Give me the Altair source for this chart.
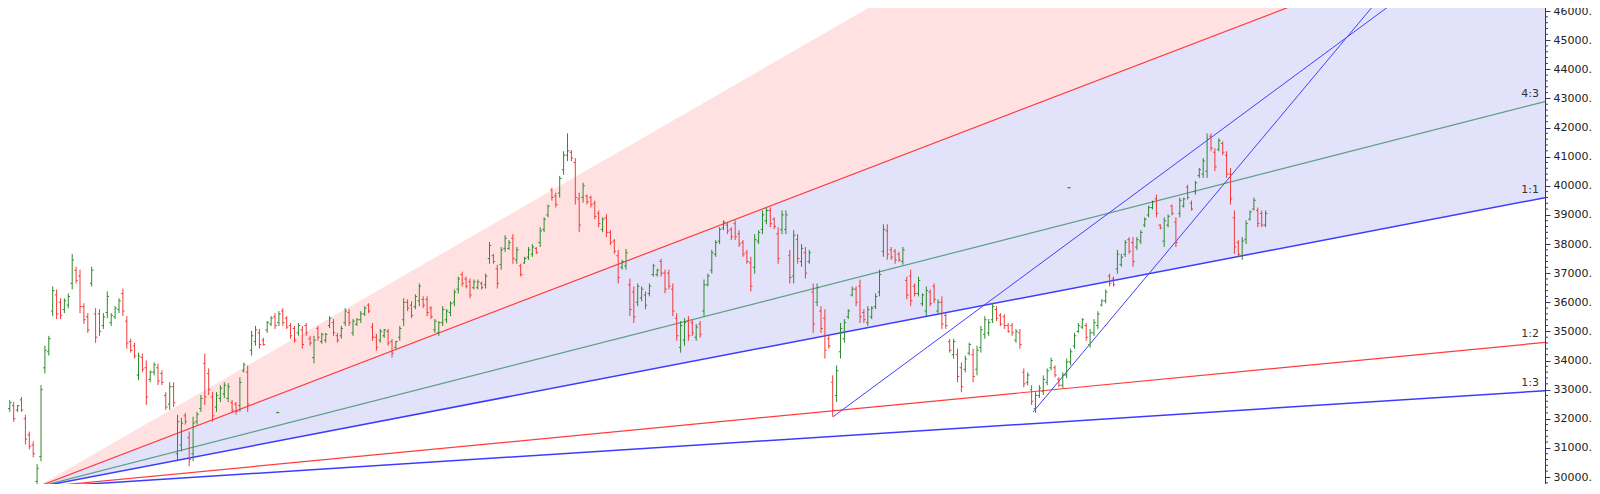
import altair as alt
import pandas as pd

# ---------------- data ----------------
HIGH = [32304,32474,32643,32575,32474,32745,32135,31559,31220,30440,
        33152,34508,34847,36542,36440,36135,36135,36305,37661,37220,
        37118,35966,35627,37220,35796,35762,35627,36373,35627,35864,
        36135,36474,35525,34745,34610,34271,34237,34000,33661,33932,
        33898,33661,32915,33254,33254,32135,32033,32203,31559,32067,
        32237,32813,34237,33728,32915,32915,33152,33254,33220,32643,
        32575,33423,33932,33830,35017,35186,35084,34780,35356,35525,
        35627,35695,35796,35525,35288,35186,35288,35186,35288,34847,
        34847,35186,34949,34949,35525,35423,34949,35186,35796,35762,
        35423,35457,35695,35864,35966,35288,34915,35084,35084,35084,
        34745,34678,35186,36135,36101,36034,36271,36644,36203,36203,
        35864,35423,35356,35864,35762,36034,36440,36881,37050,36881,
        36813,36779,36779,36712,36983,38068,37661,37288,37898,38305,
        38136,38339,37898,37322,37559,37898,37999,37898,38576,38915,
        39356,39932,39763,40339,41186,41797,41220,40949,39763,40102,
        39695,39661,39491,39152,38915,39017,38474,38169,37797,37458,
        37830,36813,36542,36644,36542,36373,36644,37322,37152,37491,
        37118,37118,36644,35627,35356,35457,35525,35423,35254,35356,
        36779,36983,37797,38136,38576,38813,38746,38576,38813,38474,
        38136,37797,37559,38339,38474,39152,39254,39254,38915,38576,
        39152,39152,37797,38474,38339,37999,37898,37797,36644,36644,
        35864,35762,34847,33491,33830,35288,35423,35762,36542,36542,
        36779,35762,35864,35864,36305,37118,38678,38678,37898,37830,
        37729,37898,36881,37118,36644,36881,36305,36542,36440,36644,
        36101,36203,35627,34745,34745,34406,33932,34169,34610,34406,
        34508,35186,35525,35423,35966,35864,35627,35593,35288,35288,
        35084,35084,33728,33593,33152,32915,33152,33491,33728,34101,
        33830,33423,33593,34067,34406,34949,35288,35457,35288,35084,
        35423,35695,36101,36440,36983,36881,37797,37661,38136,38237,
        38237,38237,38474,38915,39322,39491,39695,38678,38915,39017,
        39356,38915,39593,39593,40034,39491,40169,40610,40949,41797,
        41797,41288,41627,41525,41186,40610,39152,38136,38237,38813,
        39152,39593,39254,39152,39152]

LOW = [31728,32033,32237,31898,32237,32237,31118,30948,30677,29640,
       30542,33559,34169,35525,35423,35423,35627,35796,36440,36644,
       35627,35254,34949,36542,34610,34847,35084,35457,35186,35423,
       35627,35525,34406,34271,34067,33322,33593,32474,33254,33491,
       33152,33152,32304,32304,32406,30542,30881,31796,30372,30542,
       31796,32237,32474,32813,31898,32237,32575,32711,32575,32203,
       32135,32237,33593,32237,34169,34508,34406,34508,34949,35186,
       35084,35186,35186,35084,34745,34610,34847,34406,34847,34508,
       33898,34678,34576,34610,35118,34847,34610,34745,35186,35186,
       34847,35186,35288,35525,35627,34678,34339,34610,34780,34508,
       34101,34406,34678,35186,35695,35457,35762,35864,35796,35525,
       35423,34949,34847,35186,35288,35525,35864,36305,36542,36474,
       36135,36440,36440,36440,36474,37322,37322,36474,37118,37729,
       37797,37322,37322,36881,37322,37458,37559,37661,37898,38407,
       38915,39491,39254,39593,40373,40847,40847,39356,38407,39423,
       39356,39254,38847,38576,38407,38237,37966,37661,36644,37118,
       37118,35525,35288,35864,36034,35762,36203,36881,36881,36881,
       36305,36440,35525,34678,34271,34508,34678,34847,34678,34780,
       35525,36542,36983,37559,37999,38474,38339,38136,38136,37898,
       37559,37322,36373,36983,37999,38339,38678,38576,38508,37322,
       38339,38339,36644,36644,37322,37220,36813,37322,34949,35864,
       34949,34067,34406,32070,32575,34067,34610,35423,36203,35864,
       35288,35288,35186,35423,35762,36203,37559,37458,37458,37322,
       37390,37288,36101,35864,36203,36203,35864,35525,35864,35966,
       35627,35084,35084,34271,34067,33254,32915,33593,34169,33254,
       33491,34271,34745,34847,35288,35356,35186,35084,34949,34847,
       34610,34406,33084,33152,32474,32203,32711,32813,33152,33661,
       33423,33084,33050,33390,33830,34406,34949,35084,34678,34440,
       34847,35084,35864,35966,36542,36542,36983,37220,37559,37661,
       37220,37797,37999,38576,38915,39186,38915,38508,37898,38576,
       38983,37898,38915,39254,39525,39152,39695,40271,40271,40271,
       41186,40508,41186,41050,40271,39356,37661,37559,37458,37999,
       38813,39152,38576,38576,38576]

OPEN = [32200,32150,32350,32450,32300,32650,32000,31450,31100,29850,
        30700,33750,34300,35700,36250,36000,35750,35900,36650,37100,
        36900,35850,35500,36650,35600,35600,35200,35650,35300,35500,
        35750,36300,35350,34650,34500,33500,34100,33750,33350,33600,
        33750,33550,32800,32500,33100,30800,31100,32100,31350,30800,
        31900,32350,33900,33550,32750,32400,32700,32850,32700,32550,
        32500,32450,33650,33600,34350,34650,34950,34700,35050,35250,
        35500,35300,35700,35450,35200,35100,34950,35050,35200,34750,
        34100,35100,34650,34700,35200,35300,34850,34850,35300,35650,
        34950,35250,35400,35600,35900,35150,34800,34700,34850,35000,
        34650,34450,34800,35400,36000,35900,35850,36050,36100,36100,
        35800,35050,34950,35300,35400,35650,36000,36450,36950,36800,
        36700,36500,36500,36650,36600,37500,37600,37150,37300,37850,
        37850,38200,37450,37250,37350,37550,37650,37850,38050,38500,
        39000,39850,39650,39750,40550,41050,41150,40800,39550,39600,
        39650,39600,39400,39050,38500,38900,38400,38100,37600,37200,
        37250,36600,36350,36000,36150,36250,36300,36950,36950,37400,
        37000,37000,36450,35450,34450,34700,35350,35300,34800,35250,
        35700,36600,37100,37650,38100,38550,38650,38500,38700,38350,
        38050,37700,37350,37200,38100,38500,38800,39150,38850,38350,
        38500,38500,37600,36900,38150,37400,37700,37400,36350,36000,
        35700,35450,34750,33250,32800,34300,34750,35500,36250,36450,
        36550,35650,35300,35500,35850,36350,37750,38450,37800,37750,
        37650,37400,36750,36900,36550,36300,35950,35700,36350,36550,
        35700,36000,35550,34650,34200,34200,33750,33700,34250,34200,
        33700,34450,34900,34950,35400,35750,35550,35500,35200,35200,
        34700,34950,33600,33250,33000,32350,32800,32950,33250,33750,
        33750,33350,33150,33500,33950,34500,35000,35150,35200,34550,
        34950,35200,35900,36050,36900,36800,37150,37300,37650,38150,
        38050,37900,38100,38650,39000,39250,39550,38650,38100,38650,
        39300,38750,39050,39300,39950,39400,39800,40350,40400,40500,
        41700,41150,41250,41450,41050,40400,38900,38050,37600,38150,
        38850,39200,39150,39050,38650]

CLOSE = [31850,32400,32550,32000,32450,32300,31300,31050,30800,30300,
         33000,34350,34750,36400,35600,35550,36050,36200,37450,36750,
         35850,35400,35050,37100,34800,35000,35500,36200,35550,35800,
         36050,35700,34600,34350,34150,34150,33700,32750,33600,33850,
         33300,33250,32400,33100,32550,31900,31850,31900,30600,31850,
         32150,32700,32750,33000,32100,32800,33050,33150,33100,32300,
         32250,33250,33850,32500,34850,35050,34550,34550,35300,35450,
         35200,35600,35300,35150,34850,34700,35200,34550,34950,34600,
         34700,34800,34900,34900,35450,34950,34700,35100,35700,35300,
         35350,35400,35600,35800,35700,34800,34450,35000,35050,34600,
         34250,34650,35100,36000,35800,35550,36200,36550,35900,35650,
         35500,35350,35300,35750,35700,35950,36350,36800,36650,36550,
         36250,36700,36700,36500,36900,37950,37400,36650,37800,38200,
         38050,37500,37800,36950,37500,37800,37900,37700,38450,38850,
         39300,39600,39350,40250,41050,41200,40950,39600,38650,40000,
         39450,39350,38950,38700,38850,38400,38050,37750,36850,37400,
         37700,35750,35500,36550,36450,35900,36550,37250,37100,37000,
         36450,36550,35700,34850,35200,35300,34850,34950,35150,34900,
         36600,36900,37700,38050,38500,38750,38450,38250,38250,38000,
         37650,37400,36550,38150,38400,39000,39150,38700,38600,37500,
         39000,39000,36850,38300,37500,37850,37000,37700,35250,36500,
         35100,34350,34500,32300,33650,35100,35300,35700,36450,36000,
         35500,35400,35750,35800,36200,36950,38500,37650,37550,37450,
         37450,37800,36250,36050,36300,36750,36250,36400,35950,36100,
         36000,35250,35200,34350,34650,33450,33100,34050,34550,33450,
         34350,35050,35400,35300,35850,35450,35250,35200,35000,34950,
         35000,34550,33200,33500,32600,32800,33050,33350,33650,34000,
         33500,33150,33500,33950,34300,34850,35200,35400,34800,34950,
         35300,35600,36050,36350,36650,36600,37650,37550,38050,37750,
         37400,38150,38400,38850,39250,39450,39050,38550,38800,38950,
         39050,38050,39500,39550,39600,39200,40100,40550,40850,41600,
         41300,40650,41550,41150,40400,39550,37900,37650,38100,38700,
         39100,39500,38700,38650,39050]

# Gann fan drawn from the low: ratio names, end prices at the right edge
FAN_ORIGIN_IDX = 8.72
FAN_ORIGIN_PRICE = 29643
FAN_NAMES = ["3:1", "2:1", "4:3", "1:1", "1:2", "1:3"]
FAN_END_PRICE = [59482, 49505, 42891, 39593, 34620, 32962]
FAN_COLORS = ["#ffe1e1", "#ff3c3c", "#5e9e82", "#3c3cff", "#ff3c3c", "#3c3cff"]
FAN_WIDTHS = [0, 1.2, 1.2, 1.5, 1.2, 1.5]
FAN_LABELED = ["4:3", "1:1", "1:2", "1:3"]

# two extra trend lines (start index, start price, end index, end price)
TREND_X1 = [213.1, 264.4]
TREND_Y1 = [32070, 32237]
TREND_X2 = [357.7, 352.8]
TREND_Y2 = [46373, 46373]

# two small green dash markers
MARK_IDX = [70.7, 273.6]
MARK_PRICE = [32213, 39932]

X_LEFT, X_RIGHT = -0.513, 395.64
Y_MIN, Y_MAX = 29760, 46378
MAJOR_TICKS = list(range(30000, 46001, 1000))
MINOR_TICKS = [p for p in range(29800, 46400, 200) if p % 1000 != 0]

GREEN, RED = "#2e8b2e", "#f23a3a"
PINK_FILL, BLUE_FILL = "#ffe1e1", "#e2e2fa"

# ---------------- chart ----------------
W, H = 1545, 484
xs = alt.Scale(domain=[X_LEFT, X_RIGHT], nice=False, zero=False)
ys = alt.Scale(domain=[Y_MIN, Y_MAX], nice=False, zero=False)
yaxis = alt.Axis(orient="right", values=MAJOR_TICKS, format=".2f", title=None,
                 grid=False, tickSize=5, tickColor="#3a3a6a", domainColor="#2a2a90",
                 labelFont="DejaVu Sans", labelFontSize=11, labelColor="#222222",
                 labelPadding=3, labelOverlap=False, labelFlush=False)

def X(f):
    return alt.X(f, scale=xs, axis=None)

def Y(f):
    return alt.Y(f, scale=ys, axis=yaxis)

bars = pd.DataFrame({"i": list(range(len(HIGH))), "high": HIGH, "low": LOW,
                     "open": OPEN, "close": CLOSE})
bars["col"] = [GREEN if c >= o else RED for o, c in zip(OPEN, CLOSE)]
color = alt.Color("col:N", scale=None)

fan = pd.DataFrame({"name": FAN_NAMES, "end": FAN_END_PRICE, "col": FAN_COLORS, "w": FAN_WIDTHS})
fan["x1"] = FAN_ORIGIN_IDX
fan["y1"] = FAN_ORIGIN_PRICE
fan["x2"] = X_RIGHT

end = dict(zip(FAN_NAMES, FAN_END_PRICE))
fills = pd.DataFrame({
    "x": [FAN_ORIGIN_IDX, X_RIGHT, FAN_ORIGIN_IDX, X_RIGHT],
    "top": [FAN_ORIGIN_PRICE, end["3:1"], FAN_ORIGIN_PRICE, end["2:1"]],
    "bot": [FAN_ORIGIN_PRICE, end["2:1"], FAN_ORIGIN_PRICE, end["1:1"]],
    "col": [PINK_FILL, PINK_FILL, BLUE_FILL, BLUE_FILL],
})

area = alt.Chart(fills).mark_area(clip=True, opacity=1).encode(
    x=X("x:Q"), y=Y("top:Q"), y2="bot:Q",
    color=alt.Color("col:N", scale=None),
)

fan_lines = alt.Chart(fan[fan["name"] != "3:1"]).mark_rule(clip=True).encode(
    x=X("x1:Q"), x2="x2:Q", y=Y("y1:Q"), y2="end:Q",
    color=alt.Color("col:N", scale=None),
    strokeWidth=alt.StrokeWidth("w:Q", scale=None),
)

trend = pd.DataFrame({"x1": TREND_X1, "y1": TREND_Y1, "x2": TREND_X2, "y2": TREND_Y2})
trend_lines = alt.Chart(trend).mark_rule(clip=True, strokeWidth=1, color="#4040ff").encode(
    x=X("x1:Q"), x2="x2:Q", y=Y("y1:Q"), y2="y2:Q",
)

labels = alt.Chart(fan[fan["name"].isin(FAN_LABELED)]).mark_text(
    align="right", baseline="bottom", dx=-6, dy=-3, font="DejaVu Sans", fontSize=11, color="#333333",
).encode(x=X("x2:Q"), y=Y("end:Q"), text="name:N")

hl = alt.Chart(bars).mark_rule(clip=True, strokeWidth=1).encode(
    x=X("i:Q"), y=Y("low:Q"), y2="high:Q", color=color)
op = alt.Chart(bars).transform_calculate(xl="datum.i - 0.45").mark_rule(clip=True, strokeWidth=1).encode(
    x=X("xl:Q"), x2="i:Q", y=Y("open:Q"), color=color)
cl = alt.Chart(bars).transform_calculate(xr="datum.i + 0.45").mark_rule(clip=True, strokeWidth=1).encode(
    x=X("i:Q"), x2="xr:Q", y=Y("close:Q"), color=color)

marks = pd.DataFrame({"i": MARK_IDX, "p": MARK_PRICE})
dash = alt.Chart(marks).transform_calculate(a="datum.i - 0.4", b="datum.i + 0.4").mark_rule(
    strokeWidth=1.2, color=GREEN).encode(x=X("a:Q"), x2="b:Q", y=Y("p:Q"))

minor = alt.Chart(pd.DataFrame({"p": MINOR_TICKS})).mark_rule(
    clip=False, strokeWidth=1, color="#3a3a6a").encode(
    x=alt.value(W), x2=alt.value(W + 3), y=Y("p:Q"))

# page has an 8px body margin: shift the drawing so the plot starts at the window corner,
# and keep the svg small enough that the page does not overflow
chart = alt.layer(area, fan_lines, trend_lines, hl, op, cl, dash, labels, minor).properties(
    width=W, height=H,
    padding={"left": -8, "top": -8, "right": 47, "bottom": 0},
    autosize=alt.AutoSizeParams(type="none"),
    background="white",
).configure_view(stroke=None)

chart.save("out.html", embed_options={"renderer": "svg", "actions": False})
